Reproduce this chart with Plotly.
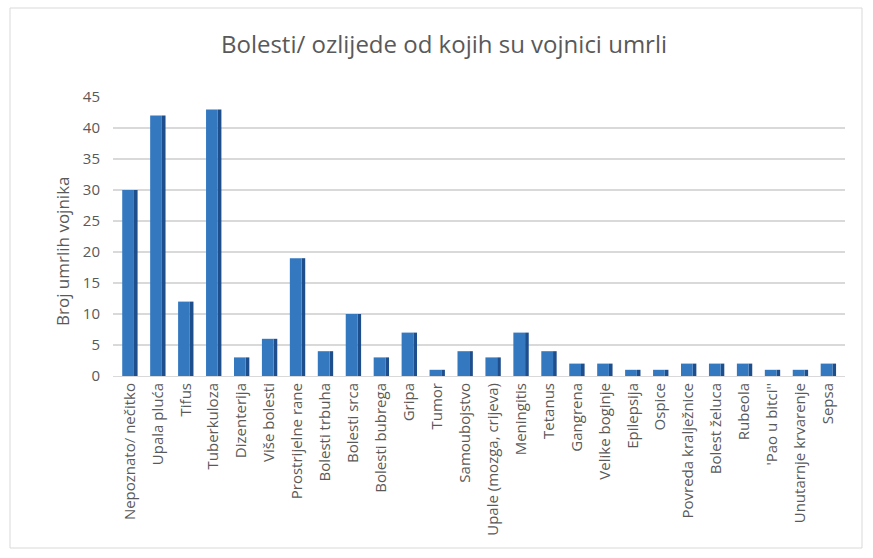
import plotly.graph_objects as go

categories = ["Nepoznato/ nečitko", "Upala pluća", "Tifus", "Tuberkuloza", "Dizenterija",
              "Više bolesti", "Prostrijelne rane", "Bolesti trbuha", "Bolesti srca",
              "Bolesti bubrega", "Gripa", "Tumor", "Samoubojstvo", "Upale (mozga, crijeva)",
              "Meningitis", "Tetanus", "Gangrena", "Velike boginje", "Epilepsija", "Ospice",
              "Povreda kralježnice", "Bolest želuca", "Rubeola", "'Pao u bitci''",
              "Unutarnje krvarenje", "Sepsa"]
values = [30, 42, 12, 43, 3, 6, 19, 4, 10, 3, 7, 1, 4, 3, 7, 4, 2, 2, 1, 1, 2, 2, 2, 1, 1, 2]
y_ticks = [0, 5, 10, 15, 20, 25, 30, 35, 40, 45]

FONT = "Open Sans"
GRAY = "#595959"

fig = go.Figure()
# side face (darker)
fig.add_trace(go.Bar(x=categories, y=values, width=0.13, offset=0.15,
                     marker=dict(color="#1F4E8C", line=dict(width=0)),
                     hoverinfo="skip", showlegend=False))
# front face
fig.add_trace(go.Bar(x=categories, y=values, width=0.42, offset=-0.27,
                     marker=dict(color="#3478C0", line=dict(width=0)),
                     showlegend=False))

L, R, T, B = 113, 28, 97, 182
W, H = 873, 558
pw, ph = W - L - R, H - T - B

fig.update_layout(
    width=W, height=H,
    margin=dict(l=L, r=R, t=T, b=B),
    paper_bgcolor="white", plot_bgcolor="white",
    barmode="overlay",
    font=dict(family=FONT, color=GRAY),
    title=dict(text="Bolesti/ ozlijede od kojih su vojnici umrli",
               x=444 / W, xanchor="center", y=1 - 45 / H, yanchor="middle",
               font=dict(size=24, color=GRAY, family=FONT)),
    xaxis=dict(tickangle=-90, tickfont=dict(size=15, color=GRAY, family=FONT),
               showgrid=False, showline=True, linecolor="#D9D9D9",
               ticks="", range=[-0.6, len(categories) - 0.4]),
    yaxis=dict(range=[0, 45], tickvals=y_ticks, tickfont=dict(size=15, color=GRAY, family=FONT),
               showgrid=True, gridcolor="#D9D9D9", gridwidth=1.5, zeroline=False,
               ticks="", ticklabelstandoff=12),
    annotations=[dict(text="Broj umrlih vojnika", textangle=-90, showarrow=False,
                      xref="paper", yref="paper",
                      x=(62 - L) / pw, y=(H - B - 251) / ph,
                      xanchor="center", yanchor="middle",
                      font=dict(size=17, color=GRAY, family=FONT))],
    shapes=[dict(type="rect", xref="paper", yref="paper",
                 x0=(10 - L) / pw, x1=(862 - L) / pw,
                 y0=(H - B - 548) / ph, y1=(H - B - 8) / ph,
                 line=dict(color="#D9D9D9", width=1), fillcolor="rgba(0,0,0,0)", layer="below")],
)

fig.write_html("out.html", config={"displayModeBar": False},
               post_script="document.body.style.margin='0';")
